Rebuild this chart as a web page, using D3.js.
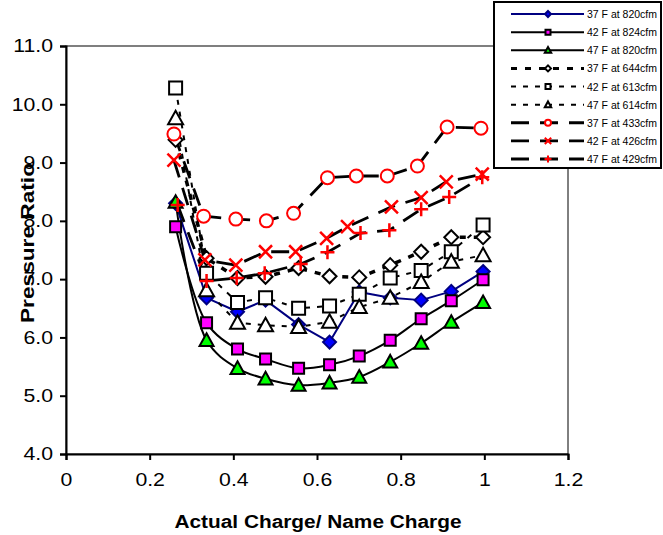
<!DOCTYPE html>
<html><head><meta charset="utf-8">
<script src="https://cdn.jsdelivr.net/npm/d3@7"></script>
<style>body{margin:0;background:#fff}svg{display:block}text{font-family:Arial,"Liberation Sans",sans-serif}</style>
</head><body><svg id="c" width="663" height="535"></svg>
<script>
// ---- data ----
const seriesNames = ["37 F at 820cfm","42 F at 824cfm","47 F at 820cfm","37 F at 644cfm","42 F at 613cfm","47 F at 614cfm","37 F at 433cfm","42 F at 426cfm","47 F at 429cfm"];
const chargeHigh = [0.262,0.336,0.41,0.477,0.556,0.63,0.701,0.775,0.849,0.921,0.997];
const charge433  = [0.258,0.329,0.406,0.479,0.544,0.625,0.694,0.768,0.840,0.911,0.992];
const charge426  = [0.258,0.332,0.406,0.477,0.549,0.623,0.673,0.778,0.849,0.909,0.995];
const charge429  = [0.267,0.336,0.408,0.475,0.561,0.625,0.704,0.773,0.849,0.916,0.995];
const pr37F820 = [8.3,6.68,6.44,6.64,6.22,5.92,6.78,6.68,6.64,6.79,7.13];
const pr42F824 = [7.9,6.25,5.8,5.63,5.47,5.53,5.68,5.95,6.32,6.63,6.99];
const pr47F820 = [8.32,5.95,5.47,5.29,5.18,5.22,5.32,5.58,5.9,6.26,6.6];
const pr37F644 = [9.39,7.36,7.02,7.04,7.19,7.05,7.03,7.24,7.47,7.72,7.72];
const pr42F613 = [10.28,7.1,6.6,6.68,6.5,6.54,6.74,7.02,7.15,7.47,7.93];
const pr47F614 = [9.76,6.81,6.25,6.21,6.18,6.27,6.52,6.68,6.95,7.3,7.41];
const pr37F433 = [9.49,8.08,8.03,8.0,8.13,8.74,8.77,8.77,8.94,9.61,9.59];
const pr42F426 = [9.04,7.33,7.24,7.47,7.47,7.7,7.9,8.24,8.4,8.67,8.8];
const pr47F429 = [8.27,6.97,7.02,7.1,7.26,7.46,7.79,7.84,8.2,8.41,8.75];
const xTicks = [0,0.2,0.4,0.6,0.8,1,1.2];
const yTicks = [4,5,6,7,8,9,10,11];

// ---- styles ----
const styles = [
  {x:chargeHigh, y:pr37F820, line:"#000080", w:2, dash:null, curve:false, shape:"diamond", fill:"#0000FF", stroke:"#000080", r:6.5, lr:3},
  {x:chargeHigh, y:pr42F824, line:"#000", w:2, dash:null, curve:true, shape:"square", fill:"#FF00FF", stroke:"#000", r:5.5, lr:2.5},
  {x:chargeHigh, y:pr47F820, line:"#000", w:2, dash:null, curve:true, shape:"triangle", fill:"#00FF00", stroke:"#000", r:7, lr:3.2},
  {x:chargeHigh, y:pr37F644, line:"#000", w:3.5, dash:"6,8", curve:false, shape:"diamond", fill:"#fff", stroke:"#000", r:7, lr:3},
  {x:chargeHigh, y:pr42F613, line:"#000", w:2, dash:"5,7", curve:false, shape:"square", fill:"#fff", stroke:"#000", r:6.5, lr:2.5},
  {x:chargeHigh, y:pr47F614, line:"#000", w:2, dash:"5,7", curve:false, shape:"triangle", fill:"#fff", stroke:"#000", r:7.5, lr:3.2},
  {x:charge433, y:pr37F433, line:"#000", w:2.8, dash:"18,11", curve:false, shape:"circle", fill:"#fff", stroke:"#FF0000", r:6.5, lr:3},
  {x:charge426, y:pr42F426, line:"#000", w:2.8, dash:"18,11", curve:false, shape:"x", fill:"none", stroke:"#FF0000", r:6.5, lr:3.2},
  {x:charge429, y:pr47F429, line:"#000", w:2.8, dash:"18,11", curve:false, shape:"plus", fill:"none", stroke:"#FF0000", r:7, lr:3.5}
];

function shapePath(s, r){
  switch(s){
    case "diamond": return `M0,${-r}L${r},0L0,${r}L${-r},0Z`;
    case "square": return `M${-r},${-r}H${r}V${r}H${-r}Z`;
    case "triangle": return `M0,${-r}L${r},${r*0.8}L${-r},${r*0.8}Z`;
    case "circle": return `M${-r},0A${r},${r} 0 1,0 ${r},0A${r},${r} 0 1,0 ${-r},0Z`;
    case "x": return `M${-r},${-r}L${r},${r}M${-r},${r}L${r},${-r}`;
    case "plus": return `M${-r},0H${r}M0,${-r}V${r}`;
  }
}
function stretch(sel, f){
  sel.each(function(){ const w=this.getComputedTextLength(); d3.select(this).attr("textLength",w*f).attr("lengthAdjust","spacingAndGlyphs"); });
}

const svg = d3.select("#c");
const L=66, R=568, T=46, B=454;
const x = d3.scaleLinear().domain([0,1.2]).range([L,R]);
const y = d3.scaleLinear().domain([4,11]).range([B,T]);

// plot border
svg.append("rect").attr("x",L).attr("y",T).attr("width",R-L).attr("height",B-T)
  .attr("fill","none").attr("stroke","#000").attr("stroke-width",1);

// axes
const xAxis = svg.append("g").attr("transform",`translate(0,${B})`)
  .call(d3.axisBottom(x).tickValues(xTicks).tickFormat(d3.format("~g")).tickSizeOuter(0).tickSize(6).tickPadding(13));
const yAxis = svg.append("g").attr("transform",`translate(${L},0)`)
  .call(d3.axisLeft(y).tickValues(yTicks).tickFormat(d3.format(".1f")).tickSizeOuter(0).tickSize(6).tickPadding(7));
[xAxis,yAxis].forEach(g=>{
  g.select(".domain").attr("stroke","#000").attr("stroke-width",2);
  g.selectAll(".tick line").attr("stroke","#000").attr("stroke-width",2);
  g.selectAll(".tick text").attr("fill","#000").style("font-size","18px").style("font-family","Arial, 'Liberation Sans', sans-serif");
  stretch(g.selectAll(".tick text"), 1.18);
});

// series lines
styles.forEach(st=>{
  const pts = st.x.map((v,i)=>[v, st.y[i]]);
  const gen = d3.line().x(d=>x(d[0])).y(d=>y(d[1])).curve(st.curve?d3.curveCatmullRom.alpha(0.5):d3.curveLinear);
  svg.append("path").attr("d",gen(pts)).attr("fill","none").attr("stroke",st.line)
    .attr("stroke-width",st.w).attr("stroke-dasharray",st.dash).attr("stroke-linejoin","round");
});
// markers
styles.forEach(st=>{
  const pts = st.x.map((v,i)=>[v, st.y[i]]);
  svg.append("g").selectAll("path").data(pts).join("path")
    .attr("transform",d=>`translate(${x(d[0])},${y(d[1])})`)
    .attr("d",shapePath(st.shape, st.r))
    .attr("fill",st.fill).attr("stroke",st.stroke).attr("stroke-width",(st.shape==="x"||st.shape==="plus")?2.5:2);
});

// axis titles
const xt = svg.append("text").attr("x",318).attr("y",528).attr("text-anchor","middle")
  .style("font-size","18px").style("font-weight","bold").text("Actual Charge/ Name Charge")
  .attr("textLength",287).attr("lengthAdjust","spacingAndGlyphs");
svg.append("text").attr("transform",`translate(34,243) rotate(-90)`).attr("text-anchor","middle")
  .style("font-size","18px").style("font-weight","bold").text("Pressure Ratio")
  .attr("textLength",160).attr("lengthAdjust","spacingAndGlyphs");

// legend
const lg = svg.append("g");
lg.append("rect").attr("x",494).attr("y",2).attr("width",167).attr("height",166)
  .attr("fill","#fff").attr("stroke","#000").attr("stroke-width",2);
const ly = d3.scaleLinear().domain([0,8]).range([14,159]);
styles.forEach((st,i)=>{
  const yy = ly(i);
  lg.append("line").attr("x1",511).attr("x2",584).attr("y1",yy).attr("y2",yy)
    .attr("stroke",st.line).attr("stroke-width",Math.min(st.w,3)).attr("stroke-dasharray",st.dash);
  lg.append("path").attr("transform",`translate(548,${yy})`).attr("d",shapePath(st.shape, st.lr))
    .attr("fill",st.fill).attr("stroke",st.stroke).attr("stroke-width",2);
  lg.append("text").attr("x",587).attr("y",yy+4).style("font-size","10.5px").attr("fill","#000").text(seriesNames[i]);
});
</script></body></html>
